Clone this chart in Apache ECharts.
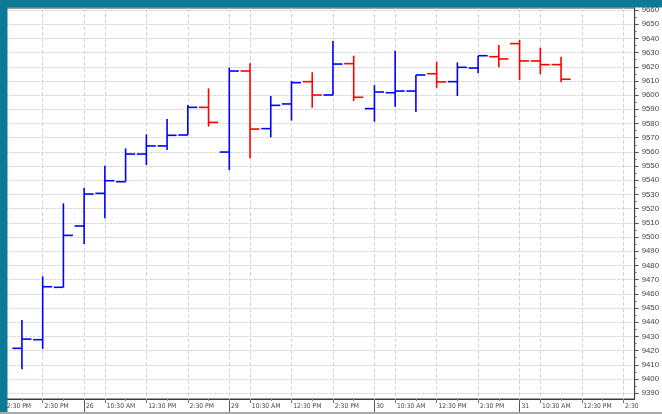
<!DOCTYPE html>
<html><head><meta charset="utf-8">
<script src="https://cdn.jsdelivr.net/npm/echarts@6/dist/echarts.min.js"></script>
<style>html,body{margin:0;padding:0;background:#fff}#c{width:662px;height:414px}</style>
</head><body><div id="c"></div><script>
// Hourly bars (index 0 = day 25, 1:30 PM)
const barTimes = ['25 1:30 PM','25 2:30 PM','25 3:30 PM',
  '26 9:30 AM','26 10:30 AM','26 11:30 AM','26 12:30 PM','26 1:30 PM','26 2:30 PM','26 3:30 PM',
  '29 9:30 AM','29 10:30 AM','29 11:30 AM','29 12:30 PM','29 1:30 PM','29 2:30 PM','29 3:30 PM',
  '30 9:30 AM','30 10:30 AM','30 11:30 AM','30 12:30 PM','30 1:30 PM','30 2:30 PM','30 3:30 PM',
  '31 9:30 AM','31 10:30 AM','31 11:30 AM'];
const openV  = [9421.6, 9427.7, 9464.6, 9507.8, 9530.8, 9539.0, 9558.5, 9564.2, 9571.9, 9591.4, 9559.9, 9617.0, 9576.4, 9593.8, 9609.5, 9600.1, 9622.2, 9590.5, 9601.7, 9602.9, 9615.1, 9609.5, 9619.1, 9627.1, 9636.3, 9624.1, 9621.5];
const highV  = [9441.5, 9472.3, 9523.8, 9534.8, 9550.3, 9562.5, 9572.4, 9583.2, 9593.1, 9604.8, 9619.4, 9622.4, 9599.4, 9610.0, 9616.1, 9638.2, 9627.8, 9607.1, 9631.3, 9614.2, 9623.6, 9623.1, 9627.8, 9635.3, 9638.9, 9633.4, 9627.1];
const lowV   = [9406.8, 9421.1, 9464.6, 9495.1, 9513.2, 9539.0, 9550.8, 9561.3, 9571.9, 9577.8, 9547.2, 9555.5, 9570.3, 9582.0, 9591.1, 9599.9, 9595.9, 9581.3, 9591.9, 9588.1, 9605.2, 9599.4, 9615.4, 9619.6, 9610.7, 9614.7, 9609.0];
const closeV = [9428.1, 9465.0, 9501.2, 9530.3, 9539.7, 9558.5, 9564.2, 9571.7, 9591.4, 9580.8, 9617.0, 9576.1, 9592.8, 9608.8, 9600.1, 9621.9, 9598.5, 9602.2, 9602.9, 9614.2, 9609.3, 9619.6, 9627.8, 9625.5, 9624.1, 9621.5, 9611.2];

// x tick labels (slot index relative to first bar)
const xLabelPos  = [-1, 1, 3, 4, 6, 8, 10, 11, 13, 15, 17, 18, 20, 22, 24, 25, 27, 29];
const xLabelText = ['12:30 PM','2:30 PM','26','10:30 AM','12:30 PM','2:30 PM','29','10:30 AM','12:30 PM','2:30 PM','30','10:30 AM','12:30 PM','2:30 PM','31','10:30 AM','12:30 PM','2:30 PM'];
const dayPos = [3, 10, 17, 24];
// y tick labels
const yTicks = [9390, 9400, 9410, 9420, 9430, 9440, 9450, 9460, 9470, 9480, 9490, 9500, 9510, 9520, 9530, 9540, 9550, 9560, 9570, 9580, 9590, 9600, 9610, 9620, 9630, 9640, 9650, 9660];

const hourPos = [];
for (let i = -1; i <= 29; i++) hourPos.push(i);
const yMinor = yTicks.map(v => v - 5);

const X_MIN = -1, X_MAX = 29.55, Y_MIN = 9385.9, Y_MAX = 9661.4;
const NARROW = '"Liberation Sans Narrow", "DejaVu Sans Condensed", "Liberation Sans", sans-serif';
const SANS = '"Liberation Sans", Arial, sans-serif';
const TEAL = '#0b7b95';

const data = barTimes.map((t, i) => [i, openV[i], highV[i], lowV[i], closeV[i], t]);

const chart = echarts.init(document.getElementById('c'), null, {renderer: 'canvas'});

function xAxisBase(extra) {
  return Object.assign({
    type: 'value', min: X_MIN, max: X_MAX, position: 'bottom',
    axisLine: {show: false, onZero: false}, axisLabel: {show: false}, splitLine: {show: false}
  }, extra);
}
function yAxisBase(extra) {
  return Object.assign({
    type: 'value', min: Y_MIN, max: Y_MAX, position: 'right',
    axisLine: {show: false, onZero: false}, axisLabel: {show: false}, splitLine: {show: false}
  }, extra);
}

chart.setOption({
  animation: false,
  backgroundColor: '#ffffff',
  grid: {left: -2.73, right: 22, top: 8, bottom: 15, show: true, borderColor: '#3a3a3a', borderWidth: 1, backgroundColor: 'transparent'},
  xAxis: [
    xAxisBase({
      axisLine: {show: true, onZero: false, lineStyle: {color: '#3a3a3a', width: 1}},
      axisTick: {show: true, customValues: xLabelPos, length: 4, lineStyle: {color: '#666'}},
      axisLabel: {show: true, customValues: xLabelPos, align: 'left', padding: [0, 0, 0, 1.8], margin: 4,
        fontSize: 6.7, fontFamily: NARROW, color: '#444',
        formatter: v => { const k = xLabelPos.indexOf(Math.round(v)); return k >= 0 ? xLabelText[k] : ''; }},
      splitLine: {show: true, lineStyle: {color: '#d6d6d6', width: 1, type: [4, 2]}}
    }),
    xAxisBase({axisTick: {show: true, customValues: dayPos, length: 14, lineStyle: {color: '#555'}}}),
    xAxisBase({axisTick: {show: true, customValues: hourPos, length: 2, lineStyle: {color: '#888'}}})
  ],
  yAxis: [
    yAxisBase({
      axisLine: {show: true, onZero: false, lineStyle: {color: '#3a3a3a', width: 1}},
      axisTick: {show: true, customValues: yTicks, length: 4, lineStyle: {color: '#555'}},
      axisLabel: {show: true, customValues: yTicks, margin: 7, fontSize: 7.8, fontFamily: SANS, color: '#444',
        formatter: v => String(v)},
      splitLine: {show: true, lineStyle: {color: '#d8d8d8', width: 1, type: [3, 1]}}
    }),
    yAxisBase({axisTick: {show: true, customValues: yMinor, length: 2, lineStyle: {color: '#777'}}})
  ],
  series: [{
    type: 'custom',
    xAxisIndex: 0, yAxisIndex: 0,
    encode: {x: 0, y: [1, 2, 3, 4]},
    data: data,
    renderItem: function (params, api) {
      const idx = api.value(0);
      const o = api.coord([idx, api.value(1)]);
      const h = api.coord([idx, api.value(2)]);
      const l = api.coord([idx, api.value(3)]);
      const c = api.coord([idx, api.value(4)]);
      const w = api.size([1, 0])[0] * 0.46;
      const col = api.value(4) >= api.value(1) ? '#0000ff' : '#ff0000';
      const st = {stroke: col, lineWidth: 1.6};
      return {type: 'group', children: [
        {type: 'line', shape: {x1: h[0], y1: h[1], x2: l[0], y2: l[1]}, style: st},
        {type: 'line', shape: {x1: o[0] - w, y1: o[1], x2: o[0], y2: o[1]}, style: st},
        {type: 'line', shape: {x1: c[0], y1: c[1], x2: c[0] + w, y2: c[1]}, style: st}
      ]};
    }
  }],
  graphic: [
    {type: 'rect', z: 100, shape: {x: 0, y: 0, width: 662, height: 7.5}, style: {fill: TEAL}},
    {type: 'rect', z: 100, shape: {x: 0, y: 0, width: 7.5, height: 412}, style: {fill: TEAL}},
    {type: 'rect', z: 100, shape: {x: 0, y: 412, width: 662, height: 2}, style: {fill: '#a9a9a9'}},
    {type: 'rect', z: 99, shape: {x: 639.5, y: 401, width: 23, height: 11}, style: {fill: '#ffffff'}}
  ]
});
</script></body></html>
